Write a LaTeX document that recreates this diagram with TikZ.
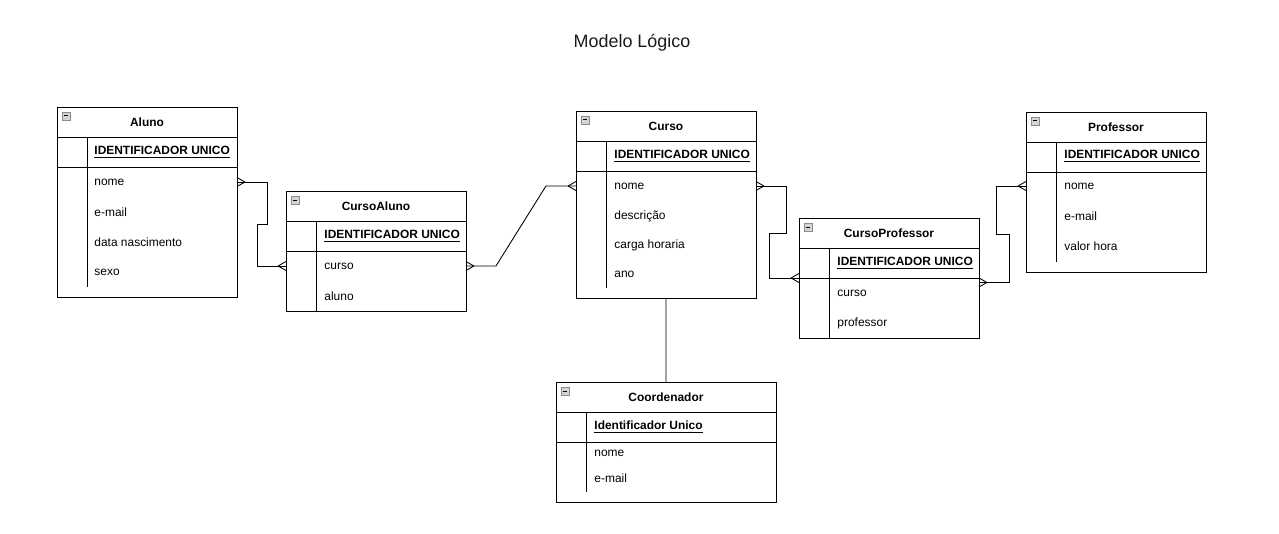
\documentclass[tikz,border=0pt]{standalone}
\usepackage{fontspec}
\setmainfont{Liberation Sans}
\usepackage{tikz}
\usepackage{xcolor}
\usetikzlibrary{positioning,calc,decorations.markings}
\definecolor{IconEdge}{HTML}{8C8C8C}
\definecolor{IconFill}{HTML}{D4D4D4}
\definecolor{Black90}{HTML}{1A1A1A}
\tikzset{
    every node/.style={font=\fontsize{6.8}{8}\selectfont},
    tblhead/.style={
        draw, anchor=north west,
        minimum width=3.6cm, minimum height=0.6cm,
        inner sep=0pt, outer sep=0pt,
        font=\fontsize{6.8}{8}\selectfont\bfseries
    },
    tblkey/.style={
        draw, minimum width=3.6cm, minimum height=0.6cm,
        inner sep=0pt, outer sep=0pt
    },
    tblbody/.style={
        draw, minimum width=3.6cm, minimum height=#1,
        inner sep=0pt, outer sep=0pt
    },
    tblicon/.style={
        draw=IconEdge, fill=IconFill, line width=0.4pt,
        minimum size=0.16cm, inner sep=0pt, outer sep=0pt
    },
    tblpk/.style={anchor=west, inner sep=0pt, font=\fontsize{6.8}{8}\selectfont\bfseries},
    tblattr/.style={anchor=west, inner sep=0pt},
    relline/.style={draw, line width=0.5pt},
    relmany/.style={
        draw, line width=0.5pt,
        postaction={decorate, decoration={markings,
            mark=at position 0 with {\draw[line width=0.5pt] (0.16cm,0) -- (0,0.09cm) (0.16cm,0) -- (0,-0.09cm);},
            mark=at position 1 with {\draw[line width=0.5pt] (-0.16cm,0) -- (0,0.09cm) (-0.16cm,0) -- (0,-0.09cm);}}}
    },
}

\begin{document}
\begin{tikzpicture}[x=0.02cm, y=-0.02cm, line width=0.5pt]
    \useasboundingbox (0,0) rectangle (1279,534);

    % Title
    \node[font=\fontsize{10.2}{12}\selectfont, text=Black90] (titulo) at (632,43) {Modelo Lógico};

    % Aluno
    \node[tblhead] (aluno) at (57,107) {Aluno};
    \node[tblkey, below=0pt of aluno] (alunokey) {};
    \node[tblbody=2.6cm, below=0pt of alunokey] (alunobody) {};
    \node[tblicon] (alunoicon) at ([shift={(9,9)}]aluno.north west) {\rule{0.09cm}{0.02cm}};
    \draw ([xshift=0.6cm]alunokey.north west) -- ++(0,150);
    \node[tblpk] (alunoid) at (94,152) {\underline{IDENTIFICADOR UNICO}};
    \node[tblattr] (alunonome) at (94,182) {nome};
    \node[tblattr] (alunoemail) at (94,212) {e-mail};
    \node[tblattr] (alunodata) at (94,242) {data nascimento};
    \node[tblattr] (alunosexo) at (94,272) {sexo};

    % CursoAluno
    \node[tblhead] (ca) at (286,191) {CursoAluno};
    \node[tblkey, below=0pt of ca] (cakey) {};
    \node[tblbody=1.2cm, below=0pt of cakey] (cabody) {};
    \node[tblicon] (caicon) at ([shift={(9,9)}]ca.north west) {\rule{0.09cm}{0.02cm}};
    \draw ([xshift=0.6cm]cakey.north west) -- ++(0,90);
    \node[tblpk] (caid) at (324,236) {\underline{IDENTIFICADOR UNICO}};
    \node[tblattr] (cacurso) at (324,266) {curso};
    \node[tblattr] (caaluno) at (324,296) {aluno};

    % Curso
    \node[tblhead] (curso) at (576,111) {Curso};
    \node[tblkey, below=0pt of curso] (cursokey) {};
    \node[tblbody=2.54cm, below=0pt of cursokey] (cursobody) {};
    \node[tblicon] (cursoicon) at ([shift={(9,9)}]curso.north west) {\rule{0.09cm}{0.02cm}};
    \draw ([xshift=0.6cm]cursokey.north west) -- ++(0,147);
    \node[tblpk] (cursoid) at (614,156) {\underline{IDENTIFICADOR UNICO}};
    \node[tblattr] (cursonome) at (614,186) {nome};
    \node[tblattr] (cursodesc) at (614,216) {descrição};
    \node[tblattr] (cursocarga) at (614,245) {carga horaria};
    \node[tblattr] (cursoano) at (614,274) {ano};

    % CursoProfessor
    \node[tblhead] (cp) at (799,218) {CursoProfessor};
    \node[tblkey, below=0pt of cp] (cpkey) {};
    \node[tblbody=1.2cm, below=0pt of cpkey] (cpbody) {};
    \node[tblicon] (cpicon) at ([shift={(9,9)}]cp.north west) {\rule{0.09cm}{0.02cm}};
    \draw ([xshift=0.6cm]cpkey.north west) -- ++(0,90);
    \node[tblpk] (cpid) at (837,263) {\underline{IDENTIFICADOR UNICO}};
    \node[tblattr] (cpcurso) at (837,293) {curso};
    \node[tblattr] (cpprof) at (837,323) {professor};

    % Professor
    \node[tblhead] (prof) at (1026,112) {Professor};
    \node[tblkey, below=0pt of prof] (profkey) {};
    \node[tblbody=2.0cm, below=0pt of profkey] (profbody) {};
    \node[tblicon] (proficon) at ([shift={(9,9)}]prof.north west) {\rule{0.09cm}{0.02cm}};
    \draw ([xshift=0.6cm]profkey.north west) -- ++(0,120);
    \node[tblpk] (profid) at (1064,156) {\underline{IDENTIFICADOR UNICO}};
    \node[tblattr] (profnome) at (1064,186) {nome};
    \node[tblattr] (profemail) at (1064,216) {e-mail};
    \node[tblattr] (profvalor) at (1064,246) {valor hora};

    % Coordenador (wider table)
    \node[tblhead, minimum width=4.4cm] (coord) at (556,382) {Coordenador};
    \node[tblkey, minimum width=4.4cm, below=0pt of coord] (coordkey) {};
    \node[tblbody=1.2cm, minimum width=4.4cm, below=0pt of coordkey] (coordbody) {};
    \node[tblicon] (coordicon) at ([shift={(9,9)}]coord.north west) {\rule{0.09cm}{0.02cm}};
    \draw ([xshift=0.6cm]coordkey.north west) -- ++(0,80);
    \node[tblpk] (coordid) at (594,427) {\underline{Identificador Unico}};
    \node[tblattr] (coordnome) at (594,453) {nome};
    \node[tblattr] (coordemail) at (594,478) {e-mail};

    % Relationships
    \draw[relmany] (alunobody.east |- alunonome) -- ++(30,0) -- ++(0,42) -- ++(-10,0) |- (cabody.west |- cacurso);
    \draw[relmany] (cabody.east |- cacurso) -- ++(30,0) -- ++(50,-80) -- (cursobody.west |- cursonome);
    \draw[relmany] (cursobody.east |- cursonome) -- ++(30,0) -- ++(0,47) -- ++(-17,0) |- (cpkey.south west);
    \draw[relmany] ([yshift=-0.09cm]cpkey.south east) -- ++(30,0) -- ++(0,-48) -- ++(-13,0) |- (profbody.west |- profnome);
    \draw[relline] (cursobody.south) -- (coord.north);
\end{tikzpicture}
\end{document}
